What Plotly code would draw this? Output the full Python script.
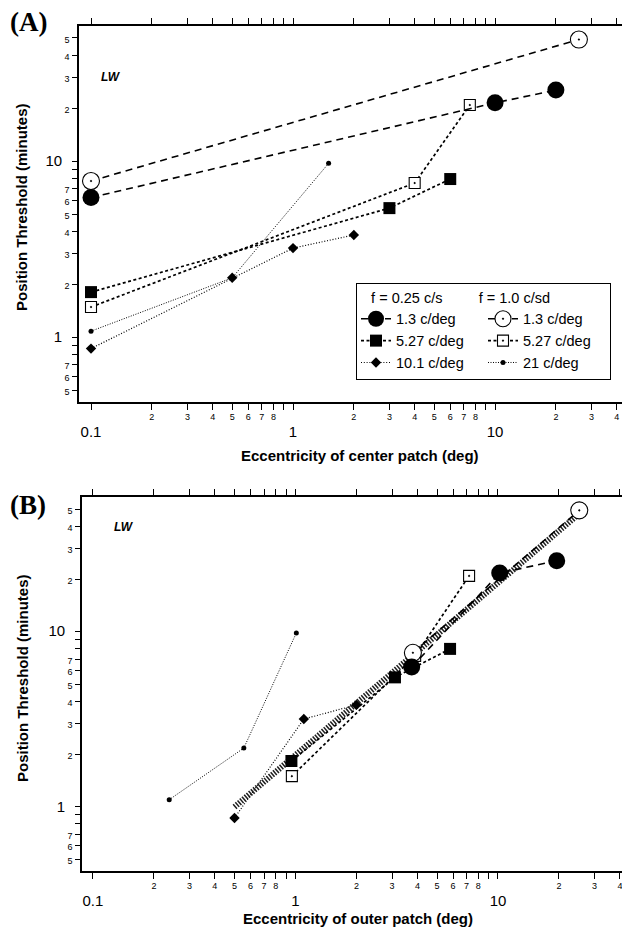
import plotly.graph_objects as go

# ---------------- data ----------------
# Panel A: eccentricity of center patch (deg) vs position threshold (minutes)
a_fc_x = [0.1, 10, 20]          # 1.3 c/deg, f = 0.25 c/s
a_fc_y = [6.2, 21.4, 25.3]
a_oc_x = [0.1, 26]              # 1.3 c/deg, f = 1.0 c/s
a_oc_y = [7.7, 49]
a_fs_x = [0.1, 3, 6]            # 5.27 c/deg, f = 0.25
a_fs_y = [1.8, 5.4, 7.9]
a_os_x = [0.1, 4, 7.5]          # 5.27 c/deg, f = 1.0
a_os_y = [1.48, 7.5, 20.8]
a_di_x = [0.1, 0.5, 1, 2]       # 10.1 c/deg, f = 0.25
a_di_y = [0.86, 2.17, 3.2, 3.8]
a_sd_x = [0.1, 0.5, 1.5]        # 21 c/deg, f = 1.0
a_sd_y = [1.08, 2.17, 9.7]

# Panel B: eccentricity of outer patch (deg)
b_fc_x = [3.75, 10.2, 19.5]
b_fc_y = [6.3, 21.7, 25.5]
b_oc_x = [3.8, 25.2]
b_oc_y = [7.6, 49.5]
b_fs_x = [0.955, 3.1, 5.8]
b_fs_y = [1.83, 5.5, 8.0]
b_os_x = [0.96, 3.9, 7.2]
b_os_y = [1.5, 7.3, 20.9]
b_di_x = [0.5, 1.1, 2.0]
b_di_y = [0.865, 3.18, 3.83]
b_sd_x = [0.238, 0.556, 1.01]
b_sd_y = [1.1, 2.17, 9.87]
b_fit_x = [0.5, 25.5]           # thick hatched line
b_fit_y = [1.0, 48]

legend_names = ["1.3 c/deg", "1.3 c/deg", "5.27 c/deg", "5.27 c/deg", "10.1 c/deg", "21 c/deg"]

x_tick_vals = [0.1, 0.2, 0.3, 0.4, 0.5, 0.6, 0.7, 0.8, 0.9,
               1, 2, 3, 4, 5, 6, 7, 8, 9, 10, 20, 30, 40]
x_tick_text = ["0.1", "2", "3", "4", "5", "6", "7", "8", "",
               "1", "2", "3", "4", "5", "6", "7", "8", "", "10", "2", "3", "4"]
x_major = ["0.1", "1", "10"]
y_tick_vals = [0.5, 0.6, 0.7, 0.8, 0.9, 1, 2, 3, 4, 5, 6, 7, 8, 9, 10, 20, 30, 40, 50]
y_tick_text = ["5", "6", "7", "", "", "1", "2", "3", "4", "5", "6", "7", "", "", "10",
               "2", "3", "4", "5"]
y_major = ["1", "10"]

# ---------------- styling ----------------
FONT = "Liberation Sans, Arial, Helvetica, sans-serif"
W, H = 630, 929
OFF = 8  # page body margin shifts the figure by this many pixels


def px(v):
    return v - OFF


def fmt_x(t):
    if t in x_major:
        return "<br><span style='font-size:15px'>" + t + "</span>"
    if t == "":
        return ""
    return "<span style='font-size:9px'>" + t + "</span>"


def fmt_y(t):
    if t in y_major:
        return "<span style='font-size:15px'>" + t + "</span>\u00a0\u00a0"
    if t == "":
        return ""
    return "<span style='font-size:9px'>" + t + "</span>"


styles = {
    "fc": dict(marker=dict(symbol="circle", size=17, color="black"),
               line=dict(color="black", width=1.6, dash="7px,5px")),
    "oc": dict(marker=dict(symbol="circle-dot", size=17, color="white",
                           line=dict(color="black", width=1.1)),
               line=dict(color="black", width=1.6, dash="7px,5px")),
    "fs": dict(marker=dict(symbol="square", size=12, color="black"),
               line=dict(color="black", width=1.7, dash="3px,2.5px")),
    "os": dict(marker=dict(symbol="square-dot", size=11, color="white",
                           line=dict(color="black", width=1.1)),
               line=dict(color="black", width=1.7, dash="3px,2.5px")),
    "di": dict(marker=dict(symbol="diamond", size=8, color="black"),
               line=dict(color="black", width=1.2, dash="1px,1.8px")),
    "sd": dict(marker=dict(symbol="circle", size=5, color="black"),
               line=dict(color="black", width=1.0, dash="1px,1.5px")),
}

fig = go.Figure()

# Panel B hatched line first (underneath)
fig.add_trace(go.Scatter(x=b_fit_x, y=b_fit_y, mode="lines", xaxis="x2", yaxis="y2",
                         line=dict(color="#1e1e1e", width=6, dash="1.5px,1.4px"),
                         showlegend=False, hoverinfo="skip"))

panelA = {"fc": (a_fc_x, a_fc_y), "oc": (a_oc_x, a_oc_y), "fs": (a_fs_x, a_fs_y),
          "os": (a_os_x, a_os_y), "di": (a_di_x, a_di_y), "sd": (a_sd_x, a_sd_y)}
panelB = {"fc": (b_fc_x, b_fc_y), "oc": (b_oc_x, b_oc_y), "fs": (b_fs_x, b_fs_y),
          "os": (b_os_x, b_os_y), "di": (b_di_x, b_di_y), "sd": (b_sd_x, b_sd_y)}
order = ["fc", "oc", "fs", "os", "di", "sd"]
groups = {"fc": "g1", "fs": "g1", "di": "g1", "oc": "g2", "os": "g2", "sd": "g2"}

draw_order = ["sd", "di", "os", "fs", "oc", "fc"]
for key in draw_order:
    xs, ys = panelA[key]
    fig.add_trace(go.Scatter(x=xs, y=ys, mode="lines+markers", xaxis="x", yaxis="y",
                             name=legend_names[order.index(key)], legendgroup=groups[key],
                             legendrank=order.index(key) + 1,
                             hoverinfo="skip", **styles[key]))
for key in draw_order:
    xs, ys = panelB[key]
    fig.add_trace(go.Scatter(x=xs, y=ys, mode="lines+markers", xaxis="x2", yaxis="y2",
                             showlegend=False, hoverinfo="skip", **styles[key]))

xdomA = [px(79) / W, px(628) / W]
xdomB = [px(82) / W, px(628) / W]
ydomA = [1 - px(402) / H, 1 - px(26) / H]
ydomB = [1 - px(871) / H, 1 - px(497) / H]
xrangeA = [-1.0594, 1.658]
xrangeB = [-1.054, 1.642]
yrangeA = [-0.369, 1.767]
yrangeB = [-0.366, 1.771]


def axis_x(dom, rng, anchor):
    return dict(type="log", range=rng, domain=dom, anchor=anchor,
                showline=True, linecolor="black", linewidth=2, mirror="ticks",
                ticks="outside", ticklen=6, tickwidth=1.2, tickcolor="black",
                tickmode="array", tickvals=x_tick_vals,
                ticktext=[fmt_x(t) for t in x_tick_text],
                tickfont=dict(family=FONT, size=13, color="black"),
                ticklabelstandoff=-6,
                showgrid=False, zeroline=False, layer="above traces")


def axis_y(dom, rng, anchor, mirror):
    return dict(type="log", range=rng, domain=dom, anchor=anchor,
                showline=True, linecolor="black", linewidth=2, mirror=mirror,
                ticks="outside", ticklen=5, tickwidth=1.2, tickcolor="black",
                tickmode="array", tickvals=y_tick_vals,
                ticktext=[fmt_y(t) for t in y_tick_text],
                tickfont=dict(family=FONT, size=13, color="black"),
                showgrid=False, zeroline=False, layer="above traces")


fig.update_layout(
    width=W, height=H,
    margin=dict(l=0, r=0, t=0, b=0),
    paper_bgcolor="white", plot_bgcolor="rgba(0,0,0,0)",
    font=dict(family=FONT, color="black"),
    xaxis=axis_x(xdomA, xrangeA, "y"),
    yaxis=axis_y(ydomA, yrangeA, "x", True),
    xaxis2=axis_x(xdomB, xrangeB, "y2"),
    yaxis2=axis_y(ydomB, yrangeB, "x2", False),
    legend=dict(
        x=px(356) / W, y=1 - px(283) / H, xanchor="left", yanchor="top",
        orientation="h", traceorder="grouped",
        entrywidth=82, entrywidthmode="pixels", tracegroupgap=0,
        itemwidth=30,
        bgcolor="white", bordercolor="black", borderwidth=1,
        font=dict(family=FONT, size=14.5, color="black"),
        title=dict(text="\u00a0\u00a0\u00a0f = 0.25 c/s" + "\u00a0" * 9 + "f = 1.0 c/sd",
                   side="top", font=dict(family=FONT, size=14.5, color="black")),
    ),
    showlegend=True,
)

ann = []
ann.append(dict(text="<b>(A)</b>", x=0, y=1 - px(22) / H, xref="paper", yref="paper",
                xanchor="left", yanchor="middle", showarrow=False,
                font=dict(family="Liberation Serif, Times New Roman, serif", size=27)))
ann.append(dict(text="<b>(B)</b>", x=0, y=1 - px(505) / H, xref="paper", yref="paper",
                xanchor="left", yanchor="middle", showarrow=False,
                font=dict(family="Liberation Serif, Times New Roman, serif", size=27)))
ann.append(dict(text="<b><i>LW</i></b>", x=px(99) / W, y=1 - px(77) / H, xref="paper", yref="paper",
                xanchor="left", yanchor="middle", showarrow=False,
                font=dict(family=FONT, size=12)))
ann.append(dict(text="<b><i>LW</i></b>", x=px(112) / W, y=1 - px(527) / H, xref="paper", yref="paper",
                xanchor="left", yanchor="middle", showarrow=False,
                font=dict(family=FONT, size=12)))
for yc in [207, 678]:
    ann.append(dict(text="<b>Position Threshold (minutes)</b>", x=px(22) / W, y=1 - px(yc) / H,
                    xref="paper", yref="paper",
                    xanchor="center", yanchor="middle", textangle=-90, showarrow=False,
                    font=dict(family=FONT, size=15)))
ann.append(dict(text="<b>Eccentricity of center patch (deg)</b>", x=px(360) / W, y=1 - px(455) / H,
                xref="paper", yref="paper", xanchor="center", yanchor="middle",
                showarrow=False, font=dict(family=FONT, size=15)))
ann.append(dict(text="<b>Eccentricity of outer patch (deg)</b>", x=px(358) / W, y=1 - px(918) / H,
                xref="paper", yref="paper", xanchor="center", yanchor="middle",
                showarrow=False, font=dict(family=FONT, size=15)))
fig.update_layout(annotations=ann)

fig.write_html("out.html")
